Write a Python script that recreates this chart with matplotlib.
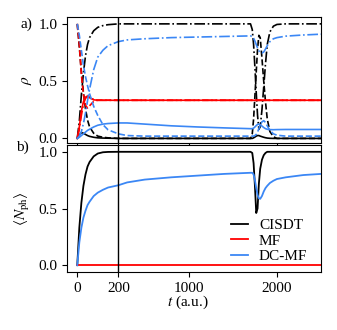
import numpy as np
import matplotlib
matplotlib.use("Agg")
import matplotlib.pyplot as plt

plt.rcParams["font.family"] = ["Liberation Serif", "DejaVu Serif"]
plt.rcParams["mathtext.fontset"] = "stix"
plt.rcParams["font.size"] = 11

# time grid (a.u.)
t = [0, 10, 20, 30, 40, 50, 60, 80, 100, 125, 150,
     200, 300, 500, 800, 1100, 1400, 1700,
     1720, 1735, 1750, 1765, 1780, 1795, 1810, 1830, 1850, 1870, 1890, 1920, 1960,
     2000, 2100, 2300, 2500]

# panel a: populations
cisdt_solid = [0, 0.03, 0.05, 0.045, 0.035, 0.025, 0.018, 0.01, 0.005, 0.003, 0.002,
               0, 0, 0, 0, 0, 0, 0,
               0, 0.005, 0.012, 0.02, 0.025, 0.025, 0.02, 0.015, 0.01, 0.006, 0.003, 0.001, 0,
               0, 0, 0, 0]
cisdt_dash = [1, 0.8, 0.58, 0.4, 0.26, 0.16, 0.1, 0.045, 0.02, 0.01, 0.005,
              0, 0, 0, 0, 0, 0, 0,
              0.04, 0.17, 0.37, 0.58, 0.78, 0.9, 0.88, 0.7, 0.5, 0.32, 0.17, 0.06, 0.015,
              0, 0, 0, 0]
cisdt_dashdot = [0, 0.15, 0.38, 0.57, 0.72, 0.82, 0.88, 0.94, 0.97, 0.985, 0.993,
                 1, 1, 1, 1, 1, 1, 1,
                 0.95, 0.82, 0.62, 0.4, 0.2, 0.08, 0.1, 0.25, 0.45, 0.65, 0.82, 0.93, 0.98,
                 0.995, 1, 1, 1]

mf_solid = [0, 0.1, 0.24, 0.32, 0.36, 0.37, 0.355, 0.337, 0.333, 0.333, 0.333,
            0.333, 0.333, 0.333, 0.333, 0.333, 0.333, 0.333,
            0.333, 0.333, 0.333, 0.333, 0.333, 0.333, 0.333, 0.333, 0.333, 0.333, 0.333, 0.333, 0.333,
            0.333, 0.333, 0.333, 0.333]
mf_dash = [1, 0.82, 0.56, 0.38, 0.29, 0.265, 0.285, 0.323, 0.333, 0.334, 0.334,
           0.333, 0.333, 0.333, 0.333, 0.333, 0.333, 0.333,
           0.333, 0.333, 0.333, 0.333, 0.333, 0.333, 0.333, 0.333, 0.333, 0.333, 0.333, 0.333, 0.333,
           0.333, 0.333, 0.333, 0.333]
mf_dashdot = [0, 0.08, 0.2, 0.3, 0.35, 0.365, 0.36, 0.34, 0.334, 0.333, 0.333,
              0.333, 0.333, 0.333, 0.333, 0.333, 0.333, 0.333,
              0.333, 0.333, 0.333, 0.333, 0.333, 0.333, 0.333, 0.333, 0.333, 0.333, 0.333, 0.333, 0.333,
              0.333, 0.333, 0.333, 0.333]

dcmf_solid = [0, 0.01, 0.025, 0.04, 0.055, 0.07, 0.08, 0.1, 0.115, 0.125, 0.13,
              0.135, 0.135, 0.125, 0.11, 0.1, 0.092, 0.085,
              0.085, 0.09, 0.1, 0.112, 0.122, 0.125, 0.12, 0.108, 0.095, 0.085, 0.08, 0.077, 0.076,
              0.077, 0.078, 0.078, 0.078]
dcmf_dash = [1, 0.9, 0.77, 0.64, 0.54, 0.46, 0.39, 0.28, 0.2, 0.12, 0.075,
             0.04, 0.025, 0.02, 0.02, 0.02, 0.02, 0.02,
             0.02, 0.02, 0.025, 0.035, 0.055, 0.085, 0.115, 0.145, 0.155, 0.14, 0.11, 0.07, 0.04,
             0.028, 0.02, 0.02, 0.02]
dcmf_dashdot = [0, 0.02, 0.06, 0.13, 0.22, 0.33, 0.43, 0.6, 0.71, 0.77, 0.81,
                0.845, 0.86, 0.87, 0.88, 0.885, 0.89, 0.895,
                0.89, 0.875, 0.85, 0.82, 0.79, 0.765, 0.75, 0.745, 0.755, 0.78, 0.81, 0.845, 0.87,
                0.88, 0.893, 0.903, 0.91]

# panel b: photon number
nph_cisdt = [0, 0.33, 0.55, 0.7, 0.8, 0.87, 0.91, 0.96, 0.985, 0.996, 0.999,
             1, 1, 1, 1, 1, 1, 1,
             0.99, 0.9, 0.7, 0.46, 0.5, 0.72, 0.85, 0.93, 0.97, 0.99, 1, 1, 1,
             1, 1, 1, 1]
nph_mf = [0, 0, 0, 0, 0, 0, 0, 0, 0, 0, 0,
          0, 0, 0, 0, 0, 0, 0,
          0, 0, 0, 0, 0, 0, 0, 0, 0, 0, 0, 0, 0,
          0, 0, 0, 0]
nph_dcmf = [0, 0.2, 0.33, 0.42, 0.48, 0.53, 0.56, 0.61, 0.64, 0.665, 0.685,
            0.705, 0.73, 0.755, 0.775, 0.79, 0.805, 0.815,
            0.815, 0.8, 0.75, 0.68, 0.62, 0.59, 0.585, 0.61, 0.65, 0.68, 0.7, 0.725, 0.745,
            0.76, 0.775, 0.795, 0.805]

labels = ["CISDT", "MF", "DC-MF"]
colors = ["black", "#ff0000", "#3b87f5"]

T_BREAK = 200.0
STRETCH = 2.33


def fwd(x):
    x = np.asarray(x, dtype=float)
    return np.where(x < T_BREAK, x * STRETCH, T_BREAK * STRETCH + (x - T_BREAK))


def inv(u):
    u = np.asarray(u, dtype=float)
    return np.where(u < T_BREAK * STRETCH, u / STRETCH, u - T_BREAK * STRETCH + T_BREAK)


fig = plt.figure(figsize=(3.37, 3.30), dpi=100)
ax_a = fig.add_axes([67 / 337, 1 - 143 / 330, 254 / 337, 126 / 330])
ax_b = fig.add_axes([67 / 337, 1 - 272 / 330, 254 / 337, 127 / 330])

lw = 1.2
pops = [
    (cisdt_solid, cisdt_dash, cisdt_dashdot),
    (mf_solid, mf_dash, mf_dashdot),
    (dcmf_solid, dcmf_dash, dcmf_dashdot),
]
for (s, d, dd), c in zip(pops, colors):
    ax_a.plot(t, s, color=c, lw=lw, ls="-")
    ax_a.plot(t, d, color=c, lw=lw, ls="--")
    ax_a.plot(t, dd, color=c, lw=lw, ls="-.")

for y, c, lab in zip([nph_cisdt, nph_mf, nph_dcmf], colors, labels):
    ax_b.plot(t, y, color=c, lw=1.3, label=lab)

for ax in (ax_a, ax_b):
    ax.set_xscale("function", functions=(fwd, inv))
    ax.set_xlim(-50, 2500)
    ax.set_xticks([0, 200, 1000, 2000])
    ax.set_yticks([0.0, 0.5, 1.0])
    ax.axvline(T_BREAK, color="black", lw=1.0)

ax_a.set_ylim(-0.04, 1.06)
ax_b.set_ylim(-0.06, 1.06)
ax_a.tick_params(labelbottom=False)

ax_a.set_ylabel(r"$\rho$")
ax_b.set_ylabel(r"$\langle N_{\rm ph}\rangle$")
ax_a.yaxis.set_label_coords(-0.13, 0.5)
ax_b.yaxis.set_label_coords(-0.138, 0.5)
ax_b.set_xlabel(r"$t$ (a.u.)")
ax_b.xaxis.set_label_coords(0.476, -0.17)

fig.text(26.5 / 337, 1 - 24 / 330, "a)", ha="center", va="center")
fig.text(22.5 / 337, 1 - 147 / 330, "b)", ha="center", va="center")

ax_b.legend(loc="lower right", bbox_to_anchor=(0.97, 0.02), borderaxespad=0,
            frameon=False, handlelength=1.1, handletextpad=0.7, labelspacing=0.12)

fig.savefig("out.png", dpi=100)
